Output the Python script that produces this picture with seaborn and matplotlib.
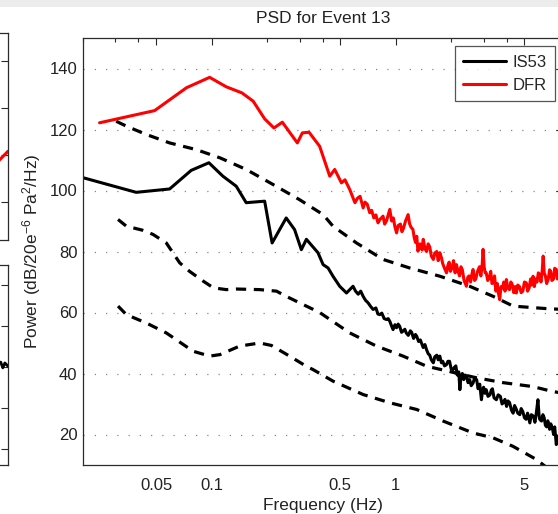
import numpy as np
import pandas as pd
import matplotlib
matplotlib.use("Agg")
import matplotlib.pyplot as plt
from matplotlib.patches import Rectangle
from matplotlib.ticker import FixedLocator, NullFormatter
import seaborn as sns

# ---------------- data ----------------
dfr_freq = [0.0246, 0.049, 0.073, 0.0975, 0.120, 0.146, 0.168, 0.194, 0.218, 0.242,
            0.292, 0.311, 0.338, 0.386, 0.42, 0.438, 0.466, 0.507, 0.53, 0.5625,
            0.60, 0.62, 0.64, 0.665, 0.68, 0.70, 0.722, 0.74, 0.76, 0.78,
            0.801, 0.82, 0.853, 0.87, 0.89, 0.91, 0.928, 0.95, 0.97, 0.988,
            1.01, 1.03, 1.06, 1.08, 1.10, 1.13, 1.167, 1.19, 1.21, 1.24,
            1.26, 1.28, 1.30, 1.32, 1.34, 1.36, 1.39, 1.41, 1.44, 1.47,
            1.50, 1.53, 1.56, 1.60, 1.63, 1.67, 1.70, 1.735, 1.77, 1.80,
            1.84, 1.886, 1.92, 1.95, 1.98, 2.02, 2.06, 2.10, 2.137, 2.18,
            2.22, 2.26, 2.30, 2.35, 2.42, 2.46, 2.50, 2.55, 2.60, 2.63,
            2.68, 2.72, 2.78, 2.85, 2.90, 2.95, 2.98, 3.02, 3.06, 3.10,
            3.16, 3.22, 3.28, 3.33, 3.38, 3.44, 3.50, 3.56, 3.62, 3.67,
            3.73, 3.80, 3.86, 3.92, 3.99, 4.06, 4.15, 4.22, 4.30, 4.38,
            4.45, 4.52, 4.60, 4.70, 4.80, 4.90, 5.00, 5.12, 5.20, 5.30,
            5.40, 5.48, 5.57, 5.66, 5.75, 5.85, 5.95, 6.05, 6.15, 6.25,
            6.32, 6.40, 6.50, 6.60, 6.73, 6.85, 6.95, 7.05, 7.20, 7.30,
            7.45, 7.55, 7.65, 7.80, 7.90, 8.10]
dfr_power = [122.2, 126.2, 133.7, 137.1, 134.0, 132.0, 129.3, 123.5, 120.5, 122.4,
             115.6, 118.9, 119.1, 114.5, 108.0, 104.7, 106.9, 102.5, 103.5, 100.3,
             96.0, 97.5, 98.1, 94.3, 96.2, 95.5, 92.7, 93.5, 91.0, 92.0,
             89.4, 90.5, 91.6, 89.0, 90.0, 92.0, 93.8, 90.0, 91.0, 88.3,
             86.1, 88.5, 89.0, 86.5, 87.5, 90.0, 92.1, 89.0, 88.0, 87.2,
             84.5, 83.0, 85.0, 80.1, 82.0, 82.5, 80.5, 84.0, 81.0, 80.0,
             82.5, 81.5, 78.5, 77.4, 79.5, 80.0, 77.0, 79.6, 78.0, 76.0,
             74.5, 73.0, 75.5, 76.5, 73.5, 74.5, 77.0, 73.0, 75.7, 73.5,
             72.0, 75.0, 74.0, 70.5, 68.6, 71.5, 72.0, 70.0, 73.0, 74.1,
             70.5, 71.0, 73.5, 75.0, 72.0, 76.0, 80.7, 75.0, 73.0, 73.0,
             70.5, 71.5, 73.5, 69.5, 69.7, 72.0, 67.0, 69.5, 66.0, 64.2,
             68.5, 68.0, 70.0, 67.0, 70.8, 68.0, 67.5, 70.0, 69.0, 66.5,
             68.5, 66.4, 69.0, 68.5, 66.5, 67.0, 70.0, 69.7, 67.0, 68.0,
             71.0, 69.0, 71.9, 68.5, 71.0, 70.0, 73.0, 72.5, 70.0, 74.0,
             78.5, 73.0, 72.0, 69.5, 70.8, 74.0, 73.5, 70.5, 71.0, 74.5,
             74.1, 71.0, 73.5, 72.5, 75.5, 74.0]

is53_freq = [0.02, 0.0389, 0.0591, 0.0774, 0.0966, 0.115, 0.136, 0.154, 0.194, 0.213,
             0.254, 0.282, 0.307, 0.327, 0.355, 0.378, 0.403, 0.429, 0.456, 0.496,
             0.54, 0.586, 0.605, 0.625, 0.645, 0.665, 0.685, 0.707, 0.73, 0.753,
             0.78, 0.80, 0.818, 0.84, 0.865, 0.89, 0.91, 0.93, 0.95, 0.967,
             0.99, 1.01, 1.03, 1.05, 1.075, 1.10, 1.12, 1.14, 1.17, 1.20,
             1.22, 1.25, 1.28, 1.30, 1.33, 1.36, 1.38, 1.41, 1.44, 1.47,
             1.50, 1.53, 1.56, 1.60, 1.63, 1.67, 1.70, 1.735, 1.77, 1.80,
             1.84, 1.886, 1.92, 1.96, 2.00, 2.05, 2.08, 2.12, 2.16, 2.20,
             2.23, 2.26, 2.30, 2.34, 2.38, 2.42, 2.47, 2.52, 2.57, 2.63,
             2.68, 2.75, 2.80, 2.86, 2.92, 2.96, 3.00, 3.05, 3.10, 3.17,
             3.25, 3.30, 3.35, 3.42, 3.52, 3.60, 3.70, 3.78, 3.85, 3.92,
             4.00, 4.07, 4.15, 4.25, 4.34, 4.42, 4.50, 4.60, 4.72, 4.80,
             4.90, 5.00, 5.10, 5.20, 5.35, 5.45, 5.60, 5.70, 5.80, 5.92,
             6.00, 6.05, 6.19, 6.30, 6.40, 6.50, 6.60, 6.70, 6.85, 6.95,
             7.10, 7.20, 7.30, 7.45, 7.55, 7.70, 7.80, 7.95, 8.10]
is53_power = [104.2, 99.4, 100.5, 106.6, 109.1, 104.7, 101.4, 96.0, 96.5, 82.8,
              91.0, 87.2, 80.6, 84.0, 81.5, 79.6, 75.7, 74.6, 71.9, 68.6,
              66.4, 68.6, 67.0, 66.0, 67.0, 65.3, 64.0, 63.2, 62.0, 61.0,
              61.5, 59.5, 59.3, 59.8, 58.0, 57.7, 58.0, 57.0, 55.5, 54.4,
              56.0, 55.0, 56.2, 55.5, 53.5, 54.0, 54.5, 53.3, 52.5, 54.0,
              53.5, 51.5, 52.8, 52.2, 50.5, 51.0, 50.0, 48.5, 49.5, 47.8,
              46.5, 46.0, 44.5, 43.5, 45.5, 46.0, 44.5, 45.7, 43.5, 44.0,
              42.5, 42.9, 44.0, 44.0, 41.5, 41.3, 42.0, 42.5, 39.5, 40.5,
              34.7, 39.0, 40.0, 38.0, 39.5, 39.1, 37.0, 38.0, 36.0, 36.9,
              38.5, 38.0, 35.0, 36.5, 31.4, 34.5, 35.5, 33.5, 34.7, 32.5,
              33.0, 34.5, 35.0, 32.0, 31.4, 33.0, 32.5, 30.0, 30.5, 31.5,
              29.2, 31.0, 30.5, 28.0, 27.0, 29.5, 28.5, 27.0, 26.5, 28.5,
              27.5, 25.5, 25.0, 27.0, 23.8, 26.5, 26.0, 24.0, 27.0, 31.4,
              26.5, 25.0, 24.4, 26.5, 25.5, 23.0, 22.5, 24.5, 21.7, 23.5,
              22.0, 20.0, 22.5, 16.7, 19.5, 17.0, 18.0, 14.5, 15.0]

# dashed reference curves
ref_a_freq = [0.0303, 0.0344, 0.044, 0.0591, 0.0825, 0.111, 0.154, 0.215, 0.30, 0.403,
              0.456, 0.612, 0.853, 1.19, 1.735, 2.52, 3.38, 4.34, 5.56, 6.5, 8.1]
ref_a_power = [122.7, 121.1, 118.4, 115.6, 113.4, 110.7, 106.9, 102.0, 97.0, 92.1,
               88.3, 82.8, 77.4, 74.6, 71.9, 68.6, 65.3, 62.1, 61.6, 61.3, 61.0]

ref_b_freq = [0.031, 0.0344, 0.042, 0.048, 0.0567, 0.067, 0.0758, 0.0899, 0.102, 0.12,
              0.136, 0.1826, 0.225, 0.254, 0.314, 0.386, 0.5625, 0.785, 1.096, 1.47,
              2.74, 3.83, 5.57, 7.0, 8.1]
ref_b_power = [90.5, 88.3, 87.0, 85.6, 82.8, 76.3, 73.5, 70.3, 68.1, 67.5,
               67.7, 67.5, 67.0, 65.3, 62.6, 60.0, 53.3, 49.0, 45.7, 42.4,
               38.6, 37.0, 35.7, 34.2, 33.5]

ref_c_freq = [0.031, 0.0344, 0.044, 0.0567, 0.0793, 0.0975, 0.111, 0.142, 0.1826, 0.211,
              0.265, 0.326, 0.355, 0.456, 0.665, 0.928, 1.30, 1.81, 2.63, 3.38,
              4.34, 5.81, 6.5]
ref_c_power = [62.1, 59.3, 56.6, 53.3, 47.3, 45.7, 46.2, 49.0, 50.0, 49.2,
               45.7, 42.4, 41.3, 37.5, 33.1, 30.4, 28.2, 24.4, 20.5, 18.9,
               16.1, 11.8, 9.5]

xticks = [0.05, 0.1, 0.5, 1, 5]
xtick_labels = ["0.05", "0.1", "0.5", "1", "5"]
xminor = [0.02, 0.03, 0.04, 0.2, 0.3, 0.4, 2, 3, 4]
yticks = [20, 40, 60, 80, 100, 120, 140]

# fragments of neighbouring panels (cut off at the left edge)
frag_top_x = [0.80, 0.90, 0.96, 1.0]
frag_top_y = [0.30, 0.62, 0.90, 1.08]
frag_bot_x = [0.80, 0.92, 0.965, 0.975, 0.985, 1.0]
frag_bot_y = [2.05, 2.00, 2.12, 1.98, 2.10, 2.02]

# ---------------- style ----------------
sns.set_style("white")
plt.rcParams["font.family"] = ["Liberation Sans", "DejaVu Sans"]
plt.rcParams["mathtext.fontset"] = "custom"
plt.rcParams["mathtext.rm"] = "Liberation Sans"
plt.rcParams["mathtext.it"] = "Liberation Sans:italic"
plt.rcParams["mathtext.default"] = "regular"

W, H = 558, 514
fig = plt.figure(figsize=(W / 100, H / 100), dpi=100)
fig.patch.set_facecolor("white")
fig.patches.append(Rectangle((0, (H - 7) / H), 1, 7 / H, transform=fig.transFigure,
                             facecolor="#ececec", edgecolor="none", zorder=0))

spine_col = "#2b2b2b"

def style_box(a):
    for s in a.spines.values():
        s.set_visible(True)
        s.set_color(spine_col)
        s.set_linewidth(0.9)

# main axes
ax = fig.add_axes([83 / W, (H - 465) / H, 480 / W, 427 / H])
style_box(ax)

for fx, py in [(ref_a_freq, ref_a_power), (ref_b_freq, ref_b_power), (ref_c_freq, ref_c_power)]:
    sns.lineplot(x=fx, y=py, ax=ax, color="black", linewidth=2.3, linestyle="--",
                 sort=False, estimator=None)
for ln in ax.get_lines():
    ln.set_dashes((3.2, 2.4))

sns.lineplot(x=is53_freq, y=is53_power, ax=ax, color="black", linewidth=2.2,
             sort=False, estimator=None, label="IS53")
sns.lineplot(x=dfr_freq, y=dfr_power, ax=ax, color="#ff0000", linewidth=2.2,
             sort=False, estimator=None, label="DFR")

ax.set_xscale("log")
ax.set_xlim(0.02, 8.1)
ax.set_ylim(10, 150)
ax.set_xticks(xticks)
ax.set_xticklabels(xtick_labels)
ax.xaxis.set_minor_locator(FixedLocator(xminor))
ax.xaxis.set_minor_formatter(NullFormatter())
ax.set_yticks(yticks)
ax.tick_params(axis="both", which="major", direction="in", length=5, width=0.8,
               color=spine_col, labelsize=12, pad=4, top=True, right=True,
               labelcolor="#222222")
ax.tick_params(axis="x", which="major", pad=9)
ax.tick_params(axis="x", which="minor", direction="in", length=3, width=0.8,
               color=spine_col, top=True)
ax.yaxis.grid(True, linestyle=(0, (1, 8)), color="#888888", linewidth=0.9)
ax.xaxis.grid(False)

ax.set_title("PSD for Event 13", fontsize=12.5, color="#222222", pad=11)
ax.set_xlabel("Frequency (Hz)", fontsize=12.5, color="#222222", labelpad=4)
ax.set_ylabel("Power (dB/20e$^{-6}$ Pa$^{2}$/Hz)", fontsize=12.5, color="#222222",
              labelpad=5)

leg = ax.legend(loc="upper right", fontsize=12, frameon=True, fancybox=False,
                edgecolor=spine_col, handlelength=2.6, borderaxespad=0.5,
                borderpad=0.5, labelspacing=0.5, handletextpad=0.35)
leg.get_frame().set_linewidth(0.9)

# left fragments (neighbouring subplots, mostly outside the picture)
ax_t = fig.add_axes([-200 / W, (H - 240) / H, 208 / W, 207 / H])
style_box(ax_t)
sns.lineplot(x=frag_top_x, y=frag_top_y, ax=ax_t, color="#ff0000", linewidth=2.2,
             sort=False, estimator=None)
ax_t.set_xlim(0, 1)
ax_t.set_ylim(-0.81, 3.6)
ax_t.set_yticks([0, 1, 2, 3])
ax_t.set_xticks([])
ax_t.tick_params(axis="y", direction="in", length=5, width=0.8, color=spine_col,
                 left=False, right=True, labelleft=False)

ax_b = fig.add_axes([-200 / W, (H - 465) / H, 208 / W, 200 / H])
style_box(ax_b)
sns.lineplot(x=frag_bot_x, y=frag_bot_y, ax=ax_b, color="black", linewidth=2.0,
             sort=False, estimator=None)
ax_b.set_xlim(0, 1)
ax_b.set_ylim(-0.4, 4.5)
ax_b.set_yticks([0, 1, 2, 3, 4])
ax_b.set_xticks([])
ax_b.tick_params(axis="y", direction="in", length=5, width=0.8, color=spine_col,
                 left=False, right=True, labelleft=False)

fig.savefig("out.png", dpi=100)
